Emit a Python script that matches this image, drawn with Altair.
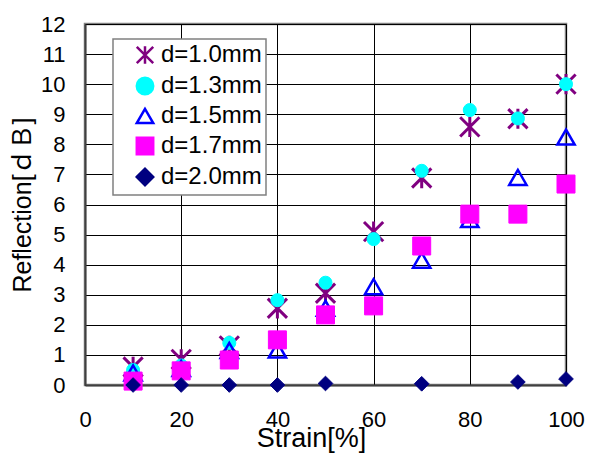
import altair as alt
import pandas as pd

strain = [10, 20, 30, 40, 50, 60, 70, 80, 90, 100]
d10 = [0.6, 0.85, 1.3, 2.55, 3.05, 5.1, 6.88, 8.58, 8.85, 10.0]
d13 = [0.5, 0.65, 1.4, 2.82, 3.4, 4.85, 7.12, 9.14, 8.86, 10.0]
d15 = [0.4, 0.55, 1.15, 1.16, 2.55, 3.27, 4.15, 5.5, 6.9, 8.24]
d17 = [0.13, 0.47, 0.83, 1.5, 2.33, 2.63, 4.62, 5.68, 5.68, 6.68]
strain20 = [10, 20, 30, 40, 50, 70, 90, 100]
d20 = [0.0, 0.0, 0.0, 0.0, 0.05, 0.04, 0.1, 0.2]

series = ["d=1.0mm", "d=1.3mm", "d=1.5mm", "d=1.7mm", "d=2.0mm"]
shapes = ["M-1,-1L1,1M-1,1L1,-1M0,-1.05L0,1.05", "circle", "triangle-up", "square", "diamond"]
fills = ["transparent", "#00FFFF", "transparent", "#FF00FF", "#000080"]
strokes = ["#800080", "#00FFFF", "#0000FF", "#FF00FF", "#000080"]
sizes = [370, 170, 300, 324, 215]
widths = [3, 1, 2.5, 1, 1]

rows = []
for k, (name, xs, ys) in enumerate([(series[0], strain, d10), (series[1], strain, d13),
                                    (series[2], strain, d15), (series[3], strain, d17),
                                    (series[4], strain20, d20)]):
    for xv, yv in zip(xs, ys):
        rows.append({"strain": xv, "refl": yv, "series": name, "k": k})
df = pd.DataFrame(rows)

FONT = "Liberation Sans, Arial, Noto Sans CJK JP"
kdom = [0, 1, 2, 3, 4]
LEXPR = "datum.label + '\u2002\u2009'"

chart = alt.Chart(df).mark_point(filled=False, opacity=1).encode(
    x=alt.X("strain:Q", scale=alt.Scale(domain=[0, 100], nice=False),
            axis=alt.Axis(values=[0, 20, 40, 60, 80, 100], title="Strain[%]",
                          titleFontSize=27, titleFontWeight="normal", titleFont=FONT,
                          titlePadding=-5, titleX=226, labelFontSize=22, labelPadding=24,
                          labelFlush=False)),
    y=alt.Y("refl:Q", scale=alt.Scale(domain=[0, 12], nice=False),
            axis=alt.Axis(values=list(range(0, 13)), title="Reflection[ｄＢ]",
                          titleFontSize=25, titleFontWeight="normal", titleFont=FONT,
                          titlePadding=5, labelFontSize=22, labelPadding=20,
                          labelFlush=False)),
    shape=alt.Shape("series:N", scale=alt.Scale(domain=series, range=shapes), title=None,
                    legend=alt.Legend(labelExpr=LEXPR)),
    fill=alt.Fill("series:N", scale=alt.Scale(domain=series, range=fills), title=None,
                  legend=alt.Legend(labelExpr=LEXPR)),
    stroke=alt.Stroke("series:N", scale=alt.Scale(domain=series, range=strokes), title=None,
                      legend=alt.Legend(labelExpr=LEXPR)),
    size=alt.Size("k:O", scale=alt.Scale(type="ordinal", domain=kdom, range=sizes), legend=None),
    strokeWidth=alt.StrokeWidth("k:O", scale=alt.Scale(type="ordinal", domain=kdom, range=widths), legend=None),
).properties(
    width=481, height=361,
    autosize=alt.AutoSizeParams(type="none"),
    padding={"left": 85, "top": 24, "right": 24, "bottom": 71},
).configure_view(
    stroke="#808080", strokeWidth=2.5
).configure_axis(
    labelFont=FONT, labelColor="black", titleColor="black",
    grid=True, gridColor="black", gridWidth=1, gridOpacity=1,
    domainColor="#404040", domainWidth=2, ticks=False, tickSize=0,
).configure_legend(
    orient="none", legendX=28, legendY=15,
    fillColor="white", strokeColor="#808080", strokeWidth=1.5,
    padding=4, symbolOffset=16, symbolSize=270, symbolStrokeWidth=2.5,
    labelFontSize=24, labelFont=FONT, labelColor="black",
    labelOffset=4, rowPadding=3,
)

chart.save("out.html", embed_options={"renderer": "svg", "actions": False})
